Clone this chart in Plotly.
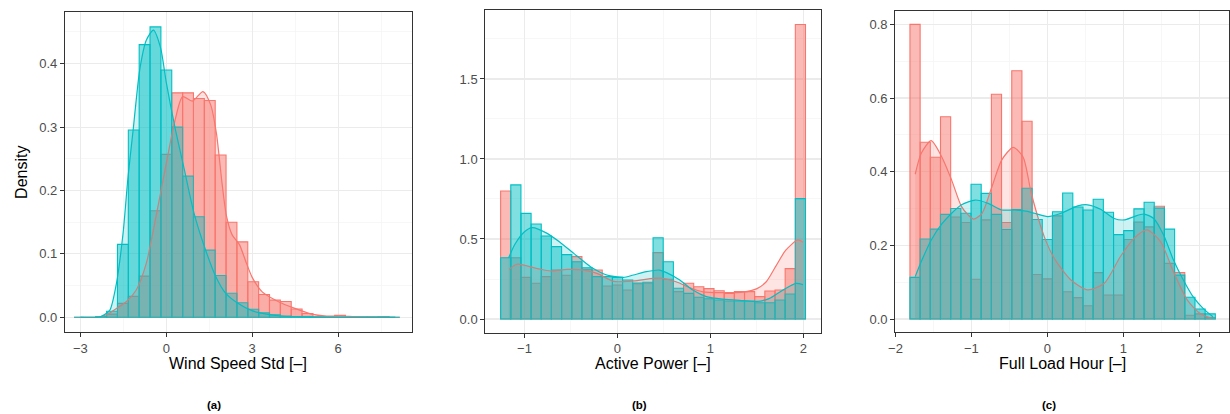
import plotly.graph_objects as go

RED = "#F8766D"
TEAL = "#00BFC4"
RED_FILL = "rgba(248,118,109,0.5)"
TEAL_FILL = "rgba(0,191,196,0.5)"
RED_DFILL = "rgba(248,118,109,0.2)"
TEAL_DFILL = "rgba(0,191,196,0.2)"
FONT = "Liberation Sans, Arial, sans-serif"

# ---------------- Panel (a): Wind Speed Std ----------------
a_binwidth = 0.3793
a_first_center = -3.034
a_red_hist = [0, 0, 0.001, 0.005, 0.022, 0.033, 0.065, 0.168, 0.257, 0.354,
              0.354, 0.345, 0.342, 0.256, 0.150, 0.119, 0.056, 0.036, 0.027, 0.025,
              0.013, 0.006, 0.001, 0.001, 0.003, 0.0005, 0.0005, 0.0005, 0.001, 0]
a_teal_hist = [0, 0, 0.001, 0.0095, 0.115, 0.2955, 0.430, 0.458, 0.390, 0.300,
               0.2226, 0.1585, 0.106, 0.066, 0.038, 0.023, 0.0126, 0.007, 0.004, 0.002,
               0.001, 0.001, 0.0005, 0.0005, 0.0005, 0.0005, 0.0005, 0.0005, 0.0005, 0]
a_red_dens_x = [-3.0, -2.5, -2.2, -2.0, -1.74, -1.39, -1.05, -0.70, -0.36, 0.0, 0.3, 0.57,
                0.91, 1.28, 1.55, 1.75, 1.95, 2.1, 2.3, 2.55, 2.8, 3.0, 3.35, 3.9, 4.49,
                5.07, 5.6, 6.1, 6.6, 7.2, 8.0]
a_red_dens_y = [0.0, 0.0, 0.002, 0.006, 0.014, 0.025, 0.043, 0.085, 0.159, 0.243, 0.31, 0.348,
                0.341, 0.356, 0.335, 0.29, 0.21, 0.16, 0.13, 0.115, 0.085, 0.063, 0.04, 0.025, 0.014,
                0.005, 0.002, 0.002, 0.001, 0.0005, 0.0]
a_teal_dens_x = [-3.0, -2.4, -2.2, -1.97, -1.74, -1.51, -1.34, -1.16, -0.93, -0.70, -0.45,
                 -0.2, 0.0, 0.3, 0.62, 0.97, 1.35, 1.73, 2.07, 2.5, 2.99, 3.5, 4.0, 5.0, 8.0]
a_teal_dens_y = [0.0, 0.0, 0.003, 0.0115, 0.054, 0.133, 0.22, 0.295, 0.39, 0.437, 0.453,
                 0.425, 0.37, 0.30, 0.235, 0.164, 0.109, 0.064, 0.038, 0.022, 0.0105, 0.005, 0.002, 0.0, 0.0]

# ---------------- Panel (b): Active Power ----------------
b_binwidth = 0.1093
b_first_center = -1.2023
b_red_hist = [0.80, 0.383, 0.26, 0.223, 0.265, 0.306, 0.273, 0.39, 0.31, 0.306,
              0.206, 0.2125, 0.181, 0.22, 0.223, 0.415, 0.248, 0.171, 0.223, 0.202,
              0.19, 0.177, 0.16, 0.171, 0.171, 0.14, 0.175, 0.181, 0.315, 1.84]
b_teal_hist = [0.383, 0.838, 0.66, 0.594, 0.519, 0.452, 0.402, 0.358, 0.32, 0.265,
               0.265, 0.26, 0.244, 0.225, 0.23, 0.508, 0.358, 0.192, 0.16, 0.136,
               0.127, 0.119, 0.1125, 0.1125, 0.1125, 0.102, 0.102, 0.119, 0.156, 0.752]
b_red_dens_x = [-1.166, -1.08, -0.86, -0.72, -0.54, -0.36, -0.22, -0.04, 0.17, 0.385, 0.49,
                0.63, 0.78, 0.92, 1.13, 1.35, 1.5, 1.6, 1.7, 1.81, 1.94, 1.995]
b_red_dens_y = [0.31, 0.342, 0.315, 0.30, 0.31, 0.306, 0.285, 0.235, 0.238, 0.254, 0.254,
                0.233, 0.195, 0.17, 0.165, 0.168, 0.19, 0.233, 0.327, 0.43, 0.494, 0.48]
b_teal_dens_x = [-1.17, -1.1, -1.0, -0.917, -0.756, -0.613, -0.47, -0.29, -0.114, 0.064, 0.17,
                 0.31, 0.45, 0.527, 0.67, 0.81, 0.955, 1.13, 1.35, 1.5, 1.63, 1.78, 1.92, 1.995]
b_teal_dens_y = [0.383, 0.47, 0.545, 0.571, 0.535, 0.477, 0.41, 0.327, 0.275, 0.26, 0.275,
                 0.296, 0.306, 0.29, 0.244, 0.181, 0.14, 0.124, 0.115, 0.11, 0.127, 0.181, 0.223, 0.215]

# ---------------- Panel (c): Full Load Hour ----------------
c_binwidth = 0.134
c_first_center = -1.742
c_red_hist = [0.80, 0.48, 0.439, 0.549, 0.277, 0.262, 0.108, 0.269, 0.610, 0.262,
              0.674, 0.537, 0.121, 0.109, 0.28, 0.074, 0.058, 0.036, 0.126, 0.065,
              0.065, 0.216, 0.263, 0.25, 0.306, 0.151, 0.126, 0.01, 0.014, 0.004]
c_teal_hist = [0.113, 0.217, 0.244, 0.284, 0.30, 0.287, 0.366, 0.341, 0.284, 0.243,
               0.297, 0.355, 0.27, 0.216, 0.291, 0.342, 0.304, 0.296, 0.325, 0.29,
               0.229, 0.24, 0.299, 0.317, 0.301, 0.244, 0.119, 0.059, 0.027, 0.014]
c_red_dens_x = [-1.74, -1.66, -1.53, -1.39, -1.26, -1.13, -1.04, -0.97, -0.86, -0.73, -0.60,
                -0.45, -0.32, -0.21, -0.04, 0.09, 0.31, 0.53, 0.75, 0.96, 1.14, 1.31, 1.49,
                1.66, 1.84, 2.01, 2.16]
c_red_dens_y = [0.393, 0.45, 0.484, 0.44, 0.377, 0.305, 0.282, 0.271, 0.287, 0.359, 0.432,
                0.466, 0.44, 0.34, 0.223, 0.165, 0.106, 0.079, 0.097, 0.169, 0.219, 0.242, 0.21,
                0.128, 0.052, 0.015, 0.002]
c_teal_dens_x = [-1.74, -1.66, -1.53, -1.39, -1.26, -1.13, -0.95, -0.78, -0.60, -0.43, -0.26,
                 -0.17, 0.005, 0.18, 0.40, 0.53, 0.70, 0.88, 1.01, 1.14, 1.27, 1.40, 1.53, 1.66,
                 1.79, 1.92, 2.05, 2.18]
c_teal_dens_y = [0.115, 0.156, 0.214, 0.258, 0.287, 0.31, 0.323, 0.314, 0.296, 0.296, 0.292,
                 0.287, 0.278, 0.287, 0.307, 0.31, 0.298, 0.273, 0.269, 0.278, 0.285, 0.273, 0.228,
                 0.16, 0.106, 0.06, 0.029, 0.006]

x_titles = ["Wind Speed Std [–]", "Active Power [–]", "Full Load Hour [–]"]
captions = ["(a)", "(b)", "(c)"]

panels = [
    dict(bw=a_binwidth, c0=a_first_center, rh=a_red_hist, th=a_teal_hist,
         rdx=a_red_dens_x, rdy=a_red_dens_y, tdx=a_teal_dens_x, tdy=a_teal_dens_y),
    dict(bw=b_binwidth, c0=b_first_center, rh=b_red_hist, th=b_teal_hist,
         rdx=b_red_dens_x, rdy=b_red_dens_y, tdx=b_teal_dens_x, tdy=b_teal_dens_y),
    dict(bw=c_binwidth, c0=c_first_center, rh=c_red_hist, th=c_teal_hist,
         rdx=c_red_dens_x, rdy=c_red_dens_y, tdx=c_teal_dens_x, tdy=c_teal_dens_y),
]

fig = go.Figure()
for i, p in enumerate(panels):
    xa = "x" if i == 0 else f"x{i+1}"
    ya = "y" if i == 0 else f"y{i+1}"
    for h, fillc, linec in [(p["rh"], RED_FILL, RED), (p["th"], TEAL_FILL, TEAL)]:
        fig.add_trace(go.Bar(y=h, x0=p["c0"], dx=p["bw"], width=p["bw"],
                             marker=dict(color=fillc, line=dict(color=linec, width=1.1)),
                             xaxis=xa, yaxis=ya, showlegend=False, hoverinfo="skip"))
    for dx_, dy_, fillc, linec in [(p["rdx"], p["rdy"], RED_DFILL, RED),
                                   (p["tdx"], p["tdy"], TEAL_DFILL, TEAL)]:
        fig.add_trace(go.Scatter(x=dx_, y=dy_, mode="lines", fill="tozeroy", fillcolor=fillc,
                                 line=dict(color=linec, width=1.2, shape="spline", smoothing=0.7),
                                 xaxis=xa, yaxis=ya, showlegend=False, hoverinfo="skip"))

W, H = 1230, 414
def dom_x(l, r):
    return [l / W, r / W]
def dom_y(t, b):
    return [(H - b) / H, (H - t) / H]

def axis(domain, rng, tick0, dtick, mtick, fmt=None, anchor=None):
    d = dict(domain=domain, range=rng, tick0=tick0, dtick=dtick, tickmode="linear",
             showline=True, mirror=True, linecolor="#333333", linewidth=1,
             ticks="outside", ticklen=4, tickcolor="#333333", tickwidth=1,
             showgrid=True, gridcolor="#EBEBEB", gridwidth=1.1, zeroline=False,
             tickfont=dict(family=FONT, size=13, color="#4D4D4D"),
             minor=dict(tick0=tick0, dtick=mtick, showgrid=True, gridcolor="#F3F3F3",
                        gridwidth=0.7, ticks=""),
             fixedrange=True)
    if fmt:
        d["tickformat"] = fmt
    if anchor:
        d["anchor"] = anchor
    return d

fig.update_layout(
    width=W, height=H, margin=dict(l=0, r=0, t=0, b=0),
    paper_bgcolor="white", plot_bgcolor="white", barmode="overlay", bargap=0,
    font=dict(family=FONT),
    xaxis=axis(dom_x(58.3, 407), [-3.54, 8.57], -3, 3, 1.5, anchor="y"),
    yaxis=axis(dom_y(11.7, 332), [-0.0232, 0.482], 0, 0.1, 0.05, fmt=".1f", anchor="x"),
    xaxis2=axis(dom_x(481, 818.3), [-1.422, 2.185], -1, 1, 0.5, anchor="y2"),
    yaxis2=axis(dom_y(10, 332.7), [-0.0856, 1.931], 0, 0.5, 0.25, fmt=".1f", anchor="x2"),
    xaxis3=axis(dom_x(893.3, 1229.3), [-2.003, 2.395], -2, 1, 0.5, anchor="y3"),
    yaxis3=axis(dom_y(10.7, 332.3), [-0.0361, 0.837], 0, 0.2, 0.1, fmt=".1f", anchor="x3"),
)

ann = []
title_x = [232.7, 649.7, 1061.5]
cap_x = [208, 636, 1048.3]
for i in range(3):
    ann.append(dict(text=x_titles[i], x=title_x[i] / W, y=(H - 363) / H, xref="paper", yref="paper",
                    xanchor="center", yanchor="middle", showarrow=False,
                    font=dict(family=FONT, size=16, color="black")))
    ann.append(dict(text="<b>" + captions[i] + "</b>", x=cap_x[i] / W, y=(H - 404.5) / H,
                    xref="paper", yref="paper", xanchor="center", yanchor="middle", showarrow=False,
                    font=dict(family=FONT, size=11.5, color="black")))
ann.append(dict(text="Density", x=15 / W, y=(H - 172) / H, xref="paper", yref="paper",
                xanchor="center", yanchor="middle", showarrow=False, textangle=-90,
                font=dict(family=FONT, size=16, color="black")))
fig.update_layout(annotations=ann)

fig.write_html("out.html", config={"displayModeBar": False, "staticPlot": True},
               post_script="document.body.style.margin='0';document.body.style.padding='0';"
                           "document.body.style.overflow='hidden';")
